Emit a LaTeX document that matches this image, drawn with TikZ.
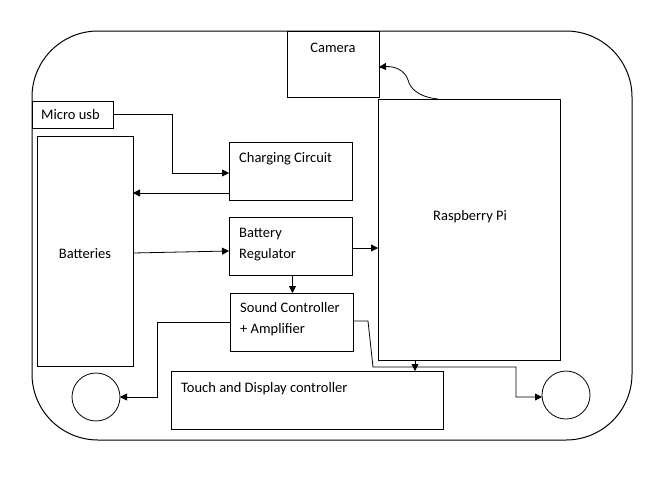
\documentclass[tikz,border=0pt]{standalone}
\usepackage{fontspec}
\setmainfont{Carlito}
\usetikzlibrary{arrows.meta,calc}
\begin{document}
\begin{tikzpicture}[x=1pt,y=-1pt,
 box/.style={draw, rectangle, line width=0.8pt, inner sep=0pt, outer sep=0pt, anchor=north west},
 txt/.style={font=\fontsize{14.5}{21}\selectfont, align=left, inner sep=0pt},
 wire/.style={line width=0.8pt},
 arr/.style={line width=0.8pt, -{Triangle[length=7pt,width=7pt]}},
 spk/.style={draw, circle, line width=0.8pt, minimum size=48pt, inner sep=0pt, outer sep=0pt}]
\useasboundingbox (0,0) rectangle (666,477);
\draw[line width=1pt, rounded corners=66pt] (32,31) rectangle (632,440);
% boxes
\node[box, minimum width=92pt, minimum height=66pt] (cam) at (287,31) {};
\node[box, minimum width=182pt, minimum height=261pt] (pi) at (378,99) {};
\node[box, minimum width=81pt, minimum height=27pt] (usb) at (32,101) {};
\node[box, minimum width=96pt, minimum height=230pt] (bat) at (37,136) {};
\node[box, minimum width=123pt, minimum height=58pt] (chg) at (229,142) {};
\node[box, minimum width=123pt, minimum height=58pt] (reg) at (229,217) {};
\node[box, minimum width=123pt, minimum height=58pt] (snd) at (230,293) {};
\node[box, minimum width=272pt, minimum height=58pt] (tch) at (171,371) {};
\node[spk] (spkL) at (96,397) {};
\node[spk] (spkR) at (566,395) {};
% texts
\node[txt, anchor=base] (camT) at ([yshift=-21pt]cam.north) {Camera};
\node[txt, anchor=base west] (piT) at ([xshift=55pt, yshift=-121pt]pi.north west) {Raspberry Pi};
\node[txt, anchor=base west] (usbT) at ([xshift=9pt, yshift=-18pt]usb.north west) {Micro usb};
\node[txt, anchor=base] (batT) at ([yshift=-122pt]bat.north) {Batteries};
\node[txt, anchor=base west] (chgT) at ([xshift=10pt, yshift=-20pt]chg.north west) {Charging Circuit};
\node[txt, anchor=base west] (regT) at ([xshift=10pt, yshift=-41pt]reg.north west) {Battery\\Regulator};
\node[txt, anchor=base west] (sndT) at ([xshift=10pt, yshift=-40pt]snd.north west) {Sound Controller\\+ Amplifier};
\node[txt, anchor=base west] (tchT) at ([xshift=10pt, yshift=-21pt]tch.north west) {Touch and Display controller};
% connectors
\draw[arr] (usb.east) -- ++(59,0) |- ([yshift=-2pt]chg.west);
\draw[arr] ([yshift=-22pt]chg.west) -- ([yshift=-22pt]chg.west -| bat.east);
\draw[arr] ([yshift=-2pt]bat.east) -- ([yshift=-5pt]reg.west);
\draw[arr] ([yshift=-2pt]reg.east) -- ([yshift=-2pt]reg.east -| pi.west);
\draw[arr] ([xshift=2pt]reg.south) -- ([xshift=2pt]reg.south |- snd.north);
\draw[arr] (snd.west) -- ++(-73,0) |- (spkL.east);
\coordinate (bend) at (373,367);
\draw[arr] ([yshift=1pt]snd.east) -- ++(15,0) -- (bend) -- (516,367) |- ([yshift=-2pt]spkR.west);
\draw[arr] ([xshift=-54pt]pi.south) -- ([xshift=-54pt]pi.south |- tch.north);
\draw[arr] ([xshift=-31pt]pi.north) .. controls (418,97) and (410,88) .. (408,80)
  .. controls (405,70) and (394,66) .. ([yshift=-3pt]cam.east);
\end{tikzpicture}
\end{document}
